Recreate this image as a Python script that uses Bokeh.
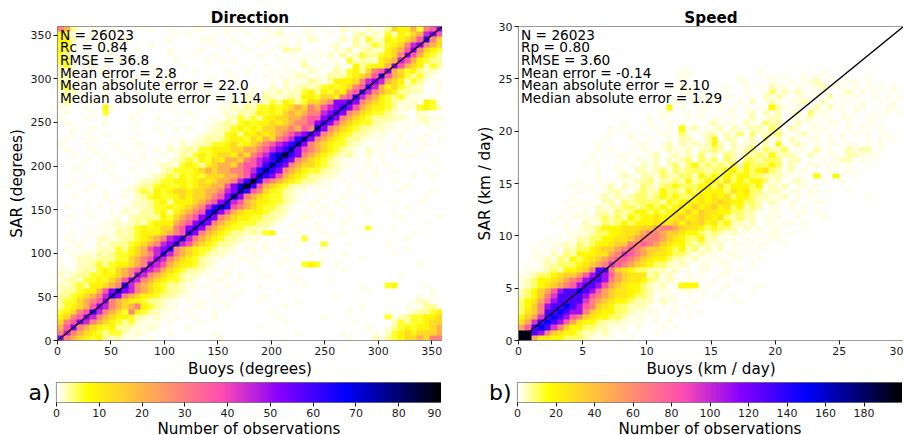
import numpy as np
from bokeh.embed import file_html
from bokeh.layouts import column, row
from bokeh.models import FixedTicker, Label, LinearColorMapper, Range1d, Spacer
from bokeh.plotting import figure
from bokeh.resources import INLINE

direction_levels = dict(zip("0123456789abcde", [0, 1, 2, 3, 6, 9, 14, 21, 29, 37, 45, 52, 62, 72, 85]))
speed_levels = dict(zip("0123456789abcde", [0, 2, 5, 10, 18, 25, 35, 50, 65, 80, 95, 110, 130, 150, 195]))

# Top row first; columns left to right, six blocks of ten bins
direction_rows = [
"8731010010 0010100100 0110001010 0010100011 0100211021 136557489b",
"5410010100 0000000010 1000101001 0001201011 0010102312 1425467ab9",
"5520100010 1000000100 0011000100 0010010102 1000203142 2545679c86",
"4410001000 0000100000 0000100010 0100110100 0012003124 34568ab876",
"5410100100 0010000100 0010001001 0001032200 1002130232 25679b8654",
"4300100010 0000000100 0100100000 0110001001 0120312433 4568b97543",
"4400010001 0100000010 0001010100 0000100120 1011042322 567a975433",
"3410110100 0000100001 0001000000 1010010031 0102115345 57b9765243",
"1020101000 1000010000 0100001001 0001011102 1013145368 9b76453221",
"2210000100 0010100100 0000100100 0010101221 1132345679 c976434210",
"2201010010 0100001000 1001000100 0001021113 2135556 8ab a765243101",
"2410100100 0000100010 0010010010 1002021232 3454568 9ca 7564322001",
"1321000100 0010000000 1001000001 1021312245 3546589ca8 7653322001",
"1210100100 0000100100 0001010102 1132123255 466589ca87 5434211010",
"0310010000 1000000010 0100001102 1224354346 678bbcb876 5432121540",
"1100100510 0001000100 0010011213 2445456768 79abcb9765 5431214542",
"0100010400 0010000010 1000012132 3545467678 8abcb87654 4321002100",
"1000100100 0100010000 0100102243 4355667789 9bcb876543 3322102211",
"0100000100 0010000100 0001123245 4556567889 bcb9765443 2211011201",
"0010010000 0000010010 1001223454 5466778798 db87654332 2110100010",
"0010100100 0010001000 0012224535 56567 89abc b876543321 1101000100",
"0100010000 0100000011 0123234554 657689acdb 8765433211 1001001001",
"1000100010 0011000102 1223445645 6789abcdb8 7654432100 1010100100",
"0100010001 0010010212 3244555667 789abcdb98 7654321021 0010001000",
"0010001000 1001001013 2454566576 89acdecb87 6543231020 1001010000",
"0000100100 0101010123 4354657768 9abcdcb876 5432101010 1000100010",
"0001000010 0010012214 5435677689 9acdcb8766 5432110010 0100000001",
"0010000100 0100102344 4567677889 acdcb87654 4322100101 0010000100",
"0000100010 0010123435 4546667789 bdcb976543 3221001001 0000010010",
"0010000001 0012234455 456567 78ac ec98765433 2110100100 0010000000",
"0100010000 0123345445 456677 9bde c976543221 1100010010 0000100000",
"0000100100 1134354566 566778abdc 9865432110 1010010001 0001000010",
"0010000100 1023454456 566789bdb8 7654432100 0100100100 0000000100",
"0000100010 0122345355 56789bca97 6554432101 1001000000 0010001000",
"0100001000 1122344545 678acdc987 6544321001 0100100100 0000100000",
"0000100010 2113245356 789cdb9765 5543321010 1010000010 0010000000",
"0010010011 0233335467 89bcb87655 4433210011 0010010000 0001000001",
"0100000112 1232455578 9bcb876544 4332100100 1000100000 0000000100",
"0000101112 2345456689 bcb8765443 3221001000 1000000140 0010000000",
"0010010113 2345556789 cb87654332 3245000100 0100100000 0000010000",
"0100102212 3345678abc a876543321 1100010040 0010000000 0000100000",
"0011002133 345678abca 9765433210 1010100100 0400010000 0100000000",
"0101012224 35679abc87 6544322101 1010010000 0100000000 0000100000",
"0011213234 45678aca87 6543221100 1001000001 0000100000 0010000000",
"1012223334 46789ba876 5432110011 0100010000 0100000100 0000000000",
"1002234345 5678ba9765 5432100100 1000100045 4001000000 0000001000",
"1112324546 789ba97654 3321101000 0100000100 0000100000 0000000000",
"2123344556 78ba876543 2211001010 0010001000 0000000000 0001000000",
"1232445467 9ba8765443 2100110010 0001000100 0010000000 0000000000",
"2234355678 ca87654332 1101001000 0100000010 0000000100 0450000100",
"2334557 9bd ba87654332 1100100010 0000100000 0000000010 0000000010",
"3345678acb 8765543321 1000100100 0010000000 0001000000 0000001010",
"3446789b87 6554332110 1010010000 0100000100 0000000000 0000012200",
"34567 9ba87 6785432110 0110001000 0000010000 0000000100 0000101331",
"4568 9ca876 4854321100 1000100000 0001000000 0000010000 0100123345",
"568 9ba8765 5432121010 0100100000 0000100000 0100000000 0412344556",
"689ba87654 3421110100 0010000000 0000010000 0000001000 0024344566",
"79b8765453 3211210000 1000000000 0100000000 0000000010 0134545567",
"8a87654344 2121000100 0000100000 0000000100 0000100001 0245656667",
"b876545323 1110100000 0000010000 0000000000 0000010002 1345667688",
]

speed_rows = [
"0000000000 0000000000 0000000000 0000000000 0000000000 0000000000",
"0000000000 0000000000 0000000000 0000000000 0000000000 0000000000",
"0000000000 0000000000 0000000000 0000000000 0000000000 0000000000",
"0000000000 0000000000 0000000000 0000000000 0000000000 0000000000",
"0000000000 0000000000 0000000000 0000000000 0000000000 0000000000",
"0000000000 0000000000 0000000000 0000000000 0000000000 0000000000",
"0000000000 0000000000 0000000000 0000000000 0000000000 0000000000",
"0000000000 0000000000 0000000000 0000000000 0000000000 0000000000",
"0000000000 0000000000 0000011000 0000000100 0000000100 0000000000",
"0000000000 0000000000 0000011000 0000100011 0100101010 0000100000",
"0000000000 0000000000 0000010000 0000110001 1010112101 0110100000",
"0000000000 0000000000 0000101000 0010010102 1101011201 1010101010",
"0000000000 0000000000 0000011000 0100010013 1202101110 1201010010",
"0000000000 0000000000 0001001010 1011001021 2101111020 1010010101",
"0000000000 0000000000 0000110101 0100102012 1011210201 0101001010",
"0000000000 0000000000 0004010011 0101010104 2101012020 1011000110",
"0000000000 0000000000 0011001010 0011012021 2012031100 1010010101",
"0000000000 0000000000 1010001010 1101012012 2011120110 1100101000",
"0000000000 0000001000 1001010101 2011021132 2102101011 0100110000",
"0000000000 0000101000 0101041201 1202112213 2021011100 0101001000",
"0000000000 0000100101 0011031012 2021303122 3101201010 1010100100",
"0000000000 0001000100 1001022102 4022012031 2021011010 1000101010",
"0000000000 0010000011 0012021212 4202112120 4012101011 0110101000",
"0000000000 0010100101 1012112022 3212123132 2301102010 1212201000",
"0000000000 0100011010 1201212131 2032132324 2221021011 0221110000",
"0000000000 0100001011 1202123132 3132133233 3022010101 2201010000",
"0000000000 1010010102 1202313423 2324243334 3121011011 0100100000",
"0000000000 0010011022 1231323332 3344343453 2120101010 0100000000",
"0000000000 0010012102 2132233243 4343443322 2101014004 0010000000",
"0000000001 0010101122 3122324234 4353434431 2012100100 1000000000",
"0000000010 1001202113 2133433344 3534443412 1201101000 0000000000",
"0000000001 0101221023 2243324344 4435453312 2011011010 0100000000",
"0000000010 0012121233 2343433454 5453443221 1201010000 0000100000",
"0000000101 0102213233 3324345454 5654433212 1011001100 0000000000",
"0000000010 1021223323 4343454645 6453423201 1010100000 0000000000",
"0000000101 1022132344 3434546465 5443322101 1001101000 0000000000",
"0000001011 1123232434 4544564565 4532322011 1001000100 0000000000",
"0000010100 2113234344 4555646564 5342212011 0110100000 0000000000",
"0000000101 2234445556 6788765543 4332121101 1000100000 0000000000",
"0000000111 1233445567 8876654432 3212101011 1010000000 0000000000",
"0000101012 2334455678 8876543342 2111010101 1000000000 0000000000",
"0001011213 2344566889 8765443232 1201101010 0100000000 0000000000",
"0010111223 3456678987 6654342312 1201010100 0000000000 0000000000",
"0011021324 445578a987 6554332121 1011101000 0000000000 0000000000",
"0011213243 4567899876 5443221201 1101100100 0000000000 0000000000",
"0101223334 5678a98765 4332121011 0110001000 0000000000 0000000000",
"0111232445 68cc865433 2221201011 0010100000 0000000000 0000000000",
"1123345667 9bcb976555 2312101010 0110000000 0000000000 0000000000",
"1234456789 bccb876554 3212101100 1000100000 0000000000 0000000000",
"123456789b ccb9765443 2120144401 0010000100 0000000000 0000000000",
"234679bccd cb97655443 2111011010 0100001000 0000000000 0000000000",
"23468acccc b987655433 2011101010 1001000000 0000000000 0000000000",
"34579bcccc a876544322 2021100100 0000100000 0000000000 0000000000",
"3468bccdcb 9865433222 1010101000 0000000000 0000000000 0000000000",
"3568ccdcbb 8654433211 1100100010 0000000000 0000000000 0000000000",
"467acdcb98 6544332111 0101001000 0000000000 0000000000 0000000000",
"57acdcb975 4432221111 0101000000 0000000000 0000000000 0000000000",
"79cdca8644 3322111010 0010100000 0000000000 0000000000 0000000000",
"eecb865443 2212101000 0100000000 0000000000 0000000000 0000000000",
"ee75544333 2111100100 0000000000 0000000000 0000000000 0000000000",
]

direction_stats = ["N = 26023", "Rc = 0.84", "RMSE = 36.8", "Mean error = 2.8",
                   "Mean absolute error = 22.0", "Median absolute error = 11.4"]
speed_stats = ["N = 26023", "Rp = 0.80", "RMSE = 3.60", "Mean error = -0.14",
               "Mean absolute error = 2.10", "Median absolute error = 1.29"]

direction_ticks = [0, 50, 100, 150, 200, 250, 300, 350]
speed_ticks = [0, 5, 10, 15, 20, 25, 30]
direction_bar_ticks = [0, 10, 20, 30, 40, 50, 60, 70, 80, 90]
speed_bar_ticks = [0, 20, 40, 60, 80, 100, 120, 140, 160, 180]


def ramp():
    cols = []
    for t in np.linspace(1, 0, 256):
        r = np.clip(t / 0.32 - 0.78125, 0, 1)
        g = np.clip(2 * t - 0.84, 0, 1)
        if t < 0.25:
            b = 4 * t
        elif t < 0.92:
            b = np.clip(-2 * t + 1.84, 0, 1)
        else:
            b = np.clip(t / 0.08 - 11.5, 0, 1)
        cols.append("#%02x%02x%02x" % (int(r * 255), int(g * 255), int(b * 255)))
    return cols


PALETTE = ramp()
FONT = "DejaVu Sans"
INK = "#1a1a1a"
EDGE = "#7a7a7a"
FRAME_W, FRAME_H = 385, 314
TOP = 18


def style_axes(p, size):
    for ax in (p.xaxis[0], p.yaxis[0]):
        ax.major_label_text_font = FONT
        ax.major_label_text_font_size = size
        ax.major_label_text_color = INK
        ax.axis_label_text_font = FONT
        ax.axis_label_text_font_size = "15.2px"
        ax.axis_label_text_font_style = "normal"
        ax.axis_label_text_color = "#000000"
        ax.major_tick_line_color = INK
        ax.major_tick_out = 4
        ax.major_tick_in = 0
        ax.minor_tick_line_color = None
        ax.axis_line_color = None
        ax.major_label_standoff = 2
        ax.axis_label_standoff = 2
    p.xgrid.visible = False
    p.ygrid.visible = False
    p.outline_line_color = EDGE
    p.outline_line_width = 1.2


def decode(rows, levels):
    grid = []
    for line in rows:
        cells = line.replace(" ", "").ljust(60, "0")[:60]
        grid.append([levels[c] for c in cells])
    return np.array(grid[::-1], dtype=float)


def heatmap(title, rows, levels, vmax, limit, ticks, xlabel, ylabel, stats, border_left):
    p = figure(frame_width=FRAME_W, frame_height=FRAME_H,
               min_border_left=border_left, min_border_right=0,
               min_border_top=TOP, min_border_bottom=30, toolbar_location=None,
               output_backend="svg", x_range=Range1d(0, limit), y_range=Range1d(0, limit),
               title=title)
    p.title.text_font = FONT
    p.title.text_font_size = "15.2px"
    p.title.text_font_style = "bold"
    p.title.text_color = "#000000"
    p.title.align = "center"
    p.title.offset = 0
    p.title.standoff = 0
    mapper = LinearColorMapper(palette=PALETTE, low=0, high=vmax)
    p.image(image=[decode(rows, levels)], x=0, y=0, dw=limit, dh=limit, color_mapper=mapper)
    p.line([0, limit], [0, limit], line_color="#000000", line_width=1.3)
    p.xaxis.ticker = FixedTicker(ticks=ticks)
    p.yaxis.ticker = FixedTicker(ticks=ticks)
    p.xaxis.axis_label = xlabel
    p.yaxis.axis_label = ylabel
    style_axes(p, "11px")
    for i, text in enumerate(stats):
        p.add_layout(Label(x=limit * 2.5 / FRAME_W, y=limit * (1 - (8 + 12.7 * i) / FRAME_H),
                           text=text, text_font=FONT, text_font_size="13.7px",
                           text_color="#000000", text_baseline="middle", text_align="left"))
    return p


def colorbar(vmax, ticks, tag, border_left):
    p = figure(frame_width=FRAME_W, frame_height=20,
               min_border_left=border_left, min_border_right=0, min_border_top=2,
               min_border_bottom=40, toolbar_location=None, output_backend="svg",
               x_range=Range1d(0, vmax), y_range=Range1d(0, 1))
    mapper = LinearColorMapper(palette=PALETTE, low=0, high=vmax)
    p.image(image=[np.linspace(0, vmax, 256).reshape(1, 256)], x=0, y=0, dw=vmax, dh=1,
            color_mapper=mapper)
    p.xaxis.ticker = FixedTicker(ticks=ticks)
    p.yaxis.ticker = FixedTicker(ticks=[])
    p.xaxis.axis_label = "Number of observations"
    p.yaxis.axis_label = tag
    style_axes(p, "11px")
    p.xaxis.axis_label_standoff = 0
    p.yaxis.axis_label_orientation = "horizontal"
    p.yaxis.axis_label_text_font_size = "22px"
    p.yaxis.axis_label_standoff = 6
    return p


p1 = heatmap("Direction", direction_rows, direction_levels, 90, 360, direction_ticks,
             "Buoys (degrees)", "SAR (degrees)", direction_stats, 48)
p2 = heatmap("Speed", speed_rows, speed_levels, 200, 30, speed_ticks,
             "Buoys (km / day)", "SAR (km / day)", speed_stats, 76)
c1 = colorbar(90, direction_bar_ticks, "a)", 48)
c2 = colorbar(200, speed_bar_ticks, "b)", 76)

page = column(Spacer(height=6),
              row(Spacer(width=4), p1, p2),
              row(Spacer(width=8), c1, c2))
open("out.html", "w").write(file_html(page, INLINE))
